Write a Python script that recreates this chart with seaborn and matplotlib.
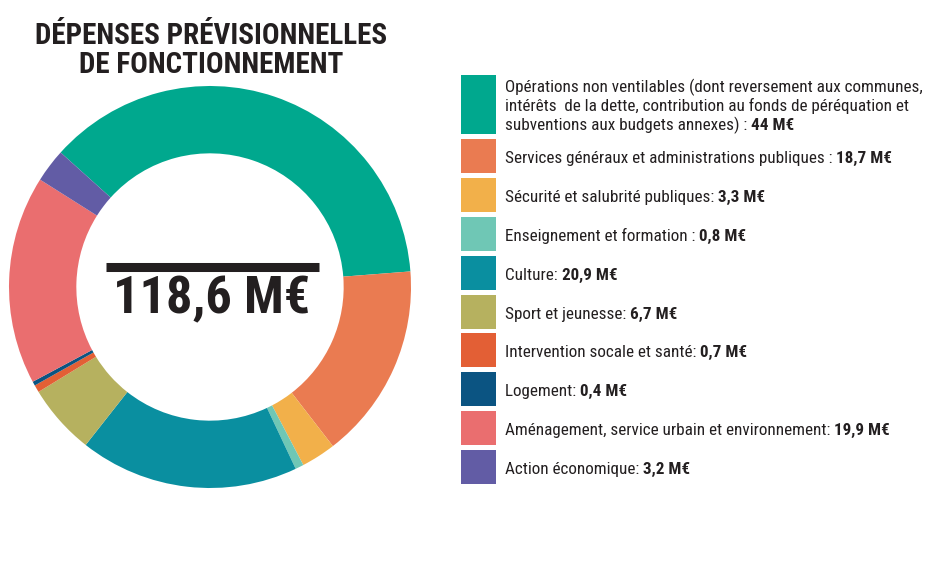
import matplotlib
matplotlib.use("Agg")
import matplotlib.pyplot as plt
import seaborn as sns
from matplotlib.patches import Rectangle

# Data
categories = [
    "Opérations non ventilables",
    "Services généraux et administrations publiques",
    "Sécurité et salubrité publiques",
    "Enseignement et formation",
    "Culture",
    "Sport et jeunesse",
    "Intervention socale et santé",
    "Logement",
    "Aménagement, service urbain et environnement",
    "Action économique",
]
values = [44, 18.7, 3.3, 0.8, 20.9, 6.7, 0.7, 0.4, 19.9, 3.2]
value_labels = ["44 M€", "18,7 M€", "3,3 M€", "0,8 M€", "20,9 M€",
                "6,7 M€", "0,7 M€", "0,4 M€", "19,9 M€", "3,2 M€"]
legend_lines = [
    ["Opérations non ventilables (dont reversement aux communes,",
     "intérêts  de la dette, contribution au fonds de péréquation et",
     "subventions aux budgets annexes) : "],
    ["Services généraux et administrations publiques : "],
    ["Sécurité et salubrité publiques: "],
    ["Enseignement et formation : "],
    ["Culture: "],
    ["Sport et jeunesse: "],
    ["Intervention socale et santé: "],
    ["Logement: "],
    ["Aménagement, service urbain et environnement: "],
    ["Action économique: "],
]
colors = ["#00A88E", "#EA7B51", "#F2B04A", "#6FC7B5", "#0A8FA0",
          "#B6B15F", "#E35F35", "#0B5482", "#EA6E6F", "#625CA5"]
total_label = "118,6 M€"
title_lines = ["DÉPENSES PRÉVISIONNELLES", "DE FONCTIONNEMENT"]

sns.set_theme(style="white")
plt.rcParams['font.family'] = ['Roboto Condensed', 'Liberation Sans Narrow', 'Roboto', 'DejaVu Sans']

W, H = 940, 564
fig = plt.figure(figsize=(W / 100, H / 100), dpi=100)
fig.patch.set_facecolor("white")
renderer = fig.canvas.get_renderer()
ink = "#231F20"

# Donut
cx, cy, r = 210, 287, 201
ax = fig.add_axes([(cx - r) / W, (H - cy - r) / H, 2 * r / W, 2 * r / H])
ax.pie(values, colors=colors, startangle=138, counterclock=False,
       radius=1, wedgeprops=dict(width=0.335, linewidth=0))
ax.set_xlim(-1, 1)
ax.set_ylim(-1, 1)
ax.axis("off")

# Overlay in pixel coordinates
ov = fig.add_axes([0, 0, 1, 1])
ov.set_xlim(0, W)
ov.set_ylim(H, 0)
ov.axis("off")


def fit_size(s, width, **kw):
    # font size giving the wanted pixel width
    t = ov.text(0, 0, s, fontsize=10, **kw)
    w = t.get_window_extent(renderer=renderer).width
    t.remove()
    return 10 * width / w


tsize = fit_size(title_lines[0], 351, fontweight="black")
for line, base in zip(title_lines, [44, 73]):
    ov.text(211, base, line, ha="center", va="baseline", fontsize=tsize,
            fontweight="black", color=ink)

ov.plot([106, 319], [266.5, 266.5], color=ink, lw=6.5,
        solid_capstyle="butt")
csize = fit_size(total_label, 197, fontweight="bold")
ov.text(211.5, 313, total_label, ha="center", va="baseline", fontsize=csize,
        fontweight="bold", color=ink)

# Legend
lsize = fit_size(legend_lines[0][0], 415)
swatch_x, swatch_w = 461, 35
text_x = 505
top = 75
line_h = 19
for i, (lines, col, val) in enumerate(zip(legend_lines, colors, value_labels)):
    n = len(lines)
    h = 34 if n == 1 else 59
    ov.add_patch(Rectangle((swatch_x, top), swatch_w, h, color=col, lw=0))
    center = top + h / 2
    y0 = center + 7 - (n - 1) * line_h / 2
    for j, line in enumerate(lines):
        y = y0 + j * line_h
        t = ov.text(text_x, y, line, ha="left", va="baseline",
                    fontsize=lsize, color=ink)
        if j == n - 1:
            bb = t.get_window_extent(renderer=renderer)
            ov.text(bb.x1, y, val, ha="left", va="baseline",
                    fontsize=lsize, fontweight="bold", color=ink)
    top += h + 4.9

fig.savefig("out.png", dpi=100, facecolor="white")
